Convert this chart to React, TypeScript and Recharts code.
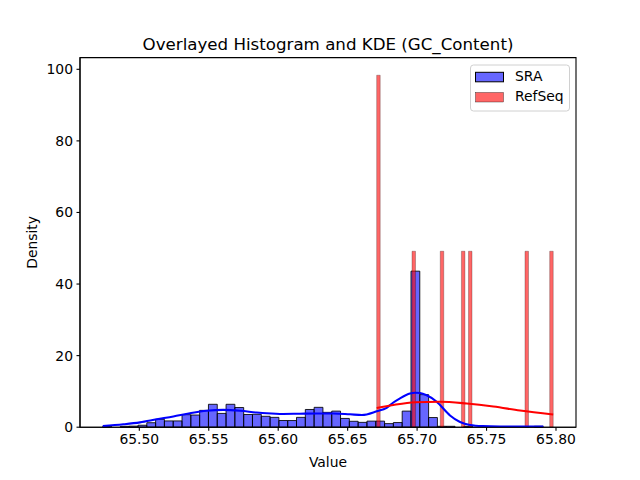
import React from 'react';
import { ComposedChart, XAxis, YAxis, Line, ReferenceArea, Legend, Customized } from 'recharts';

const xTicks = [65.5, 65.55, 65.6, 65.65, 65.7, 65.75, 65.8];
const yTicks = [0, 20, 40, 60, 80, 100];

// SRA histogram (density per bin)
const sraBinStart = 65.4737;
const sraBinWidth = 0.00634;
const sraDensity = [
  0.25, 0, 0.25, 0.3, 0.55, 1.25, 2.2, 1.75, 1.75, 3.5,
  3.4, 4.7, 6.4, 3.85, 6.4, 5.5, 3.55, 3.6, 3.05, 2.75,
  1.87, 1.86, 2.75, 4.95, 5.55, 4.15, 4.5, 2.45, 1.65, 1.35,
  1.7, 1.7, 1.0, 1.3, 4.5, 43.6, 9.1, 2.7, 0.25, 0.25,
  0, 0.25, 0, 0, 0, 0, 0, 0, 0, 0.25,
];

// RefSeq histogram (non-empty bins only)
const refSeqBinStart = 65.6709;
const refSeqBinWidth = 0.002542;
const refSeqBinIndex = [0, 10, 18, 24, 26, 42, 49];
const refSeqDensity = [98.35, 49.17, 49.17, 49.17, 49.17, 49.17, 49.17];

// KDE curves
const sraKdeX = [65.4737, 65.4885, 65.5005, 65.5125, 65.5245, 65.5365, 65.5485, 65.5605, 65.5725, 65.5845, 65.5917, 65.6037, 65.6157, 65.6277, 65.6397, 65.6517, 65.6603, 65.6709, 65.6781, 65.6829, 65.6877, 65.6949, 65.6985, 65.7021, 65.7069, 65.7141, 65.7165, 65.7237, 65.7309, 65.7381, 65.7474, 65.7597, 65.7909];
const sraKdeY = [0.3, 0.8, 1.35, 2.2, 3.0, 3.9, 4.6, 4.85, 4.61, 4.11, 3.88, 3.69, 3.77, 3.83, 3.83, 3.6, 3.41, 4.44, 5.42, 6.9, 8.08, 9.42, 9.64, 9.56, 8.91, 7.12, 6.2, 3.27, 1.45, 0.61, 0.3, 0.2, 0.15];
const refSeqKdeX = [65.6709, 65.6829, 65.6985, 65.7165, 65.7357, 65.7549, 65.7741, 65.798];
const refSeqKdeY = [5.36, 6.2, 6.96, 7.12, 6.62, 5.78, 4.67, 3.55];

const X_DOMAIN: [number, number] = [65.4573, 65.8144];
const Y_DOMAIN: [number, number] = [0, 103.27];

const sraKde = sraKdeX.map((x, i) => ({ x, y: sraKdeY[i] }));
const refSeqKde = refSeqKdeX.map((x, i) => ({ x, y: refSeqKdeY[i] }));

const FONT = 'DejaVu Sans, sans-serif';

const Texts = () => (
  <g fontFamily={FONT} fill="#000">
    <text x={328} y={49.5} textAnchor="middle" fontSize={16.67}>
      Overlayed Histogram and KDE (GC_Content)
    </text>
    <text x={328} y={466.5} textAnchor="middle" fontSize={13.9}>
      Value
    </text>
    <text x={37} y={242.4} textAnchor="middle" fontSize={13.9} transform="rotate(-90 37 242.4)">
      Density
    </text>
  </g>
);

const LegendBox = () => (
  <svg width={100} height={48} style={{ display: 'block', fontFamily: FONT }}>
    <rect x={0.5} y={1} width={99} height={46} rx={3} fill="#fff" fillOpacity={0.8} stroke="#d0d0d0" strokeWidth={1} />
    <rect x={5.5} y={8.3} width={28} height={9.5} fill="#0000ff" fillOpacity={0.6} stroke="#000" strokeWidth={1} />
    <text x={45} y={17} fontSize={13.9} fill="#000">SRA</text>
    <rect x={5.5} y={28.5} width={28} height={9.5} fill="#ff0000" fillOpacity={0.6} stroke="#000" strokeWidth={0.35} />
    <text x={45} y={37} fontSize={13.9} fill="#000">RefSeq</text>
  </svg>
);

export default function App() {
  const tickStyle = { fill: '#000', fontSize: 13.9, fontFamily: FONT };
  return (
    <div style={{ position: 'absolute', left: 0, top: 0, width: 640, height: 480, background: '#fff' }}>
      <ComposedChart
        width={640}
        height={480}
        margin={{ top: 57.6, right: 64, bottom: 12.8, left: 20 }}
      >
        <XAxis
          type="number"
          dataKey="x"
          domain={X_DOMAIN}
          allowDataOverflow
          ticks={xTicks}
          interval={0}
          tickFormatter={(v: number) => v.toFixed(2)}
          tickSize={3.5}
          tickMargin={3.5}
          height={40}
          tick={tickStyle}
          stroke="#000"
          axisLine={{ stroke: '#000', strokeWidth: 1.1 }}
          tickLine={{ stroke: '#000', strokeWidth: 1.1 }}
        />
        <YAxis
          type="number"
          domain={Y_DOMAIN}
          allowDataOverflow
          ticks={yTicks}
          interval={0}
          tickSize={3.5}
          tickMargin={3.5}
          width={60}
          tick={tickStyle}
          stroke="#000"
          axisLine={{ stroke: '#000', strokeWidth: 1.1 }}
          tickLine={{ stroke: '#000', strokeWidth: 1.1 }}
        />
        {sraDensity.map((d, i) =>
          d > 0 ? (
            <ReferenceArea
              key={`sra-${i}`}
              x1={sraBinStart + i * sraBinWidth}
              x2={sraBinStart + (i + 1) * sraBinWidth}
              y1={0}
              y2={d}
              fill="#0000ff"
              fillOpacity={0.6}
              stroke="#000"
              strokeOpacity={0.85}
              strokeWidth={1}
              ifOverflow="visible"
            />
          ) : null
        )}
        <Line
          data={sraKde}
          dataKey="y"
          type="monotone"
          stroke="#0000ff"
          strokeWidth={2.08}
          dot={false}
          isAnimationActive={false}
          legendType="none"
        />
        {refSeqBinIndex.map((b, i) => (
          <ReferenceArea
            key={`ref-${i}`}
            x1={refSeqBinStart + b * refSeqBinWidth}
            x2={refSeqBinStart + (b + 1) * refSeqBinWidth}
            y1={0}
            y2={refSeqDensity[i]}
            fill="#ff0000"
            fillOpacity={0.6}
            stroke="#000"
            strokeOpacity={0.7}
            strokeWidth={0.35}
            ifOverflow="visible"
          />
        ))}
        <Line
          data={refSeqKde}
          dataKey="y"
          type="monotone"
          stroke="#ff0000"
          strokeWidth={2.08}
          dot={false}
          isAnimationActive={false}
          legendType="none"
        />
        <ReferenceArea
          x1={X_DOMAIN[0]}
          x2={X_DOMAIN[1]}
          y1={Y_DOMAIN[0]}
          y2={Y_DOMAIN[1]}
          fill="none"
          stroke="#000"
          strokeWidth={1.1}
          ifOverflow="visible"
        />
        <Legend
          layout="vertical"
          align="center"
          verticalAlign="middle"
          wrapperStyle={{ position: 'absolute', left: 470, top: 64, width: 100, height: 48 }}
          content={() => <LegendBox />}
        />
        <Customized component={Texts} />
      </ComposedChart>
    </div>
  );
}
